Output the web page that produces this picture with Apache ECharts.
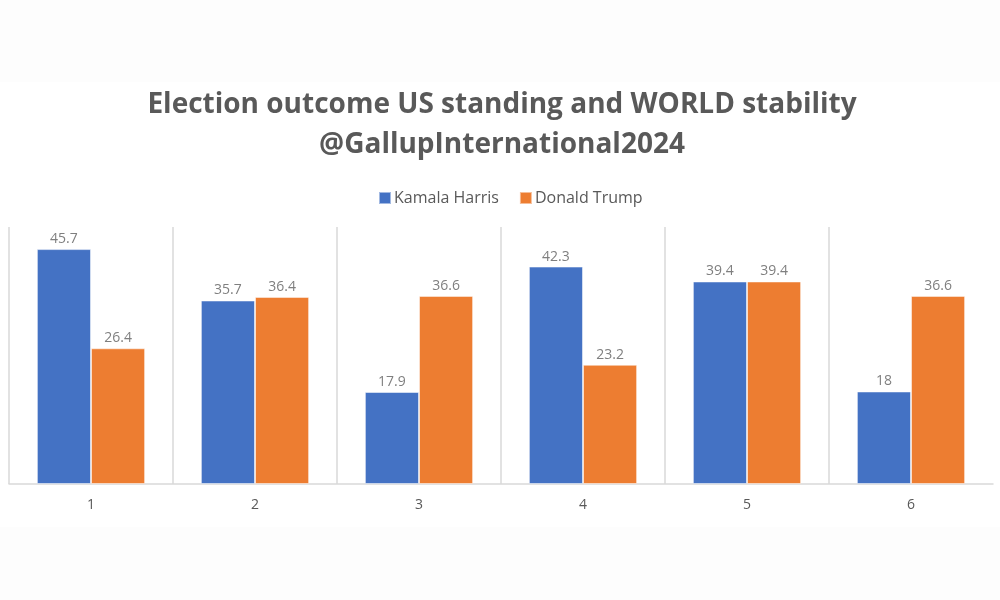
<!DOCTYPE html>
<html>
<head>
<meta charset="utf-8">
<script src="https://cdn.jsdelivr.net/npm/echarts@6/dist/echarts.min.js"></script>
<style>
  html, body { margin: 0; padding: 0; background: #fff; }
  #main { width: 1000px; height: 600px; }
</style>
</head>
<body>
<div id="main"></div>
<script>
// categories and values
var categories = ['1', '2', '3', '4', '5', '6'];
var harris = [45.7, 35.7, 17.9, 42.3, 39.4, 18];
var trump = [26.4, 36.4, 36.6, 23.2, 39.4, 36.6];
var seriesNames = ['Kamala Harris', 'Donald Trump'];

var chart = echarts.init(document.getElementById('main'));

// vertical separators between categories, none on the right edge
var sepColors = [];
for (var i = 0; i < categories.length; i++) sepColors.push('#d9d9d9');
sepColors.push('rgba(0,0,0,0)');

var option = {
  backgroundColor: '#ffffff',
  textStyle: { fontFamily: '"Open Sans", sans-serif' },
  graphic: [
    { type: 'rect', shape: { x: 0, y: 0, width: 1000, height: 82 }, style: { fill: '#fdfdfd' }, z: -10 },
    { type: 'rect', shape: { x: 0, y: 527, width: 1000, height: 73 }, style: { fill: '#fdfdfd' }, z: -10 }
  ],
  title: {
    text: 'Election outcome US standing and WORLD stability\n@GallupInternational2024',
    left: 497,
    textAlign: 'center',
    top: 80,
    textStyle: {
      fontFamily: '"Open Sans", sans-serif',
      fontWeight: 'bold',
      fontSize: 28,
      lineHeight: 40,
      color: '#595959'
    }
  },
  legend: {
    data: seriesNames,
    left: 373,
    top: 185,
    itemWidth: 12,
    itemHeight: 12,
    itemGap: 20,
    icon: 'rect',
    textStyle: { fontSize: 16, color: '#595959', padding: [0, 0, 0, -2] }
  },
  grid: {
    left: 9,
    right: 7,
    top: 227,
    bottom: 116,
    containLabel: false
  },
  xAxis: {
    type: 'category',
    data: categories,
    axisLine: { lineStyle: { color: '#d9d9d9', width: 1.5 } },
    axisTick: { show: false },
    axisLabel: { color: '#595959', fontSize: 14, margin: 14 },
    splitLine: { show: true, lineStyle: { color: sepColors, width: 1.5 } }
  },
  yAxis: {
    type: 'value',
    min: 0,
    max: 50,
    show: false,
    splitLine: { show: false }
  },
  series: [
    {
      name: seriesNames[0],
      type: 'bar',
      data: harris,
      barGap: '0%',
      barCategoryGap: '34%',
      itemStyle: { color: '#4472c4', borderColor: 'rgba(255,255,255,0.5)', borderWidth: 1 },
      label: { show: true, position: 'top', distance: 3, color: '#7f7f7f', fontSize: 14 }
    },
    {
      name: seriesNames[1],
      type: 'bar',
      data: trump,
      barGap: '0%',
      barCategoryGap: '34%',
      itemStyle: { color: '#ed7d31', borderColor: 'rgba(255,255,255,0.5)', borderWidth: 1 },
      label: { show: true, position: 'top', distance: 3, color: '#7f7f7f', fontSize: 14 }
    }
  ]
};

chart.setOption(option);
</script>
</body>
</html>
